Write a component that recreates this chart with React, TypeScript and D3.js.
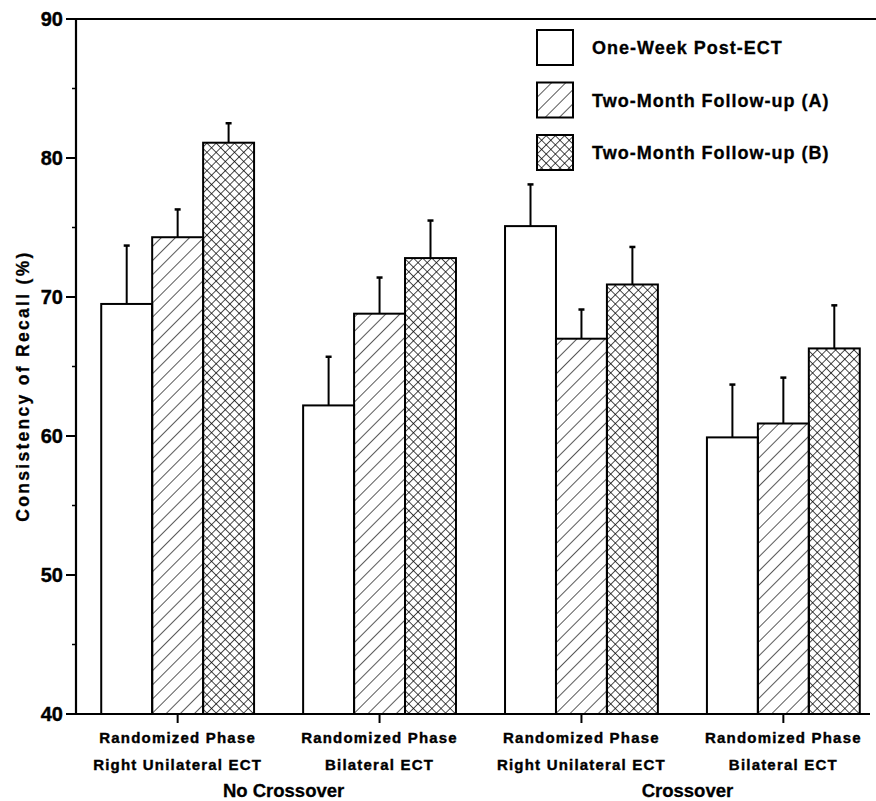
import React from 'react';
import * as d3 from 'd3';

const groups = ['NC-RUL', 'NC-BL', 'C-RUL', 'C-BL'];
const groupLine1 = ['Randomized Phase', 'Randomized Phase', 'Randomized Phase', 'Randomized Phase'];
const groupLine2 = ['Right Unilateral ECT', 'Bilateral ECT', 'Right Unilateral ECT', 'Bilateral ECT'];
const series = ['One-Week Post-ECT', 'Two-Month Follow-up (A)', 'Two-Month Follow-up (B)'];
const fills = ['white', 'url(#hatch)', 'url(#cross)'];
const oneWeek = [69.5, 62.2, 75.1, 59.9];
const twoMonthA = [74.3, 68.8, 67.0, 60.9];
const twoMonthB = [81.1, 72.8, 70.9, 66.3];
const errOneWeek = [4.2, 3.5, 3.0, 3.8];
const errTwoMonthA = [2.0, 2.6, 2.1, 3.3];
const errTwoMonthB = [1.4, 2.7, 2.7, 3.1];
const supergroups = ['No Crossover', 'Crossover'];
const yTicks = [40, 50, 60, 70, 80, 90];
const yMinor = [45, 55, 65, 75, 85];

const values = [oneWeek, twoMonthA, twoMonthB];
const errs = [errOneWeek, errTwoMonthA, errTwoMonthB];

export default function App() {
  const width = 876, height = 801;
  const left = 76, top = 19, bottom = 714;

  const y = d3.scaleLinear().domain([40, 90]).range([bottom, top]);
  const x = d3.scaleBand().domain(groups).range([77, 884]).paddingInner(0.243).paddingOuter(0.12);
  const xs = d3.scaleBand().domain(series).range([0, x.bandwidth()]);

  const font = "'Liberation Sans', Arial, Helvetica, sans-serif";
  const cx = (g: string) => (x(g) as number) + x.bandwidth() / 2;

  return (
    <svg width={width} height={height} style={{ position: 'absolute', left: 0, top: 0, background: 'white' }}
      fontFamily={font} fontWeight="bold">
      <defs>
        <pattern id="hatch" patternUnits="userSpaceOnUse" width="10" height="10" patternTransform="rotate(45)">
          <line x1="0" y1="0" x2="0" y2="10" stroke="black" strokeWidth="1.3" />
        </pattern>
        <pattern id="cross" patternUnits="userSpaceOnUse" width="6.5" height="6.5" patternTransform="rotate(45)">
          <line x1="0" y1="0" x2="0" y2="6.5" stroke="black" strokeWidth="1.4" />
          <line x1="0" y1="0" x2="6.5" y2="0" stroke="black" strokeWidth="1.4" />
        </pattern>
      </defs>

      {/* frame lines */}
      <line x1={left} x2={width} y1={top} y2={top} stroke="black" strokeWidth={2} />
      <line x1={left} x2={left} y1={top} y2={bottom} stroke="black" strokeWidth={2.2} />
      <line x1={left - 8} x2={870} y1={bottom} y2={bottom} stroke="black" strokeWidth={2.2} />

      {/* y ticks */}
      {yTicks.map(t => (
        <g key={t}>
          <line x1={left - 10} x2={left} y1={y(t)} y2={y(t)} stroke="black" strokeWidth={2} />
          <text x={left - 13} y={y(t) + 7} textAnchor="end" fontSize={20} stroke="black" strokeWidth={0.4}>{t}</text>
        </g>
      ))}
      {yMinor.map(t => (
        <line key={t} x1={left - 4} x2={left} y1={y(t)} y2={y(t)} stroke="black" strokeWidth={1.5} />
      ))}
      <text transform="translate(29,386) rotate(-90)" textAnchor="middle" fontSize={17.5}
        letterSpacing={2.3} stroke="black" strokeWidth={0.3}>
        Consistency of Recall (%)
      </text>

      {/* bars */}
      {groups.map((g, gi) => (
        <g key={g} transform={`translate(${x(g)},0)`}>
          {series.map((s, si) => {
            const v = values[si][gi];
            const bx = xs(s) as number;
            const mid = bx + xs.bandwidth() / 2;
            return (
              <g key={s}>
                <line x1={mid} x2={mid} y1={y(v)} y2={y(v + errs[si][gi])} stroke="black" strokeWidth={2} />
                <line x1={mid - 3} x2={mid + 3} y1={y(v + errs[si][gi])} y2={y(v + errs[si][gi])} stroke="black" strokeWidth={2.5} />
                <rect x={bx} y={y(v)} width={xs.bandwidth()} height={bottom - y(v)}
                  fill={fills[si]} stroke="black" strokeWidth={2} />
              </g>
            );
          })}
        </g>
      ))}

      {/* x ticks and labels */}
      {groups.map((g, gi) => (
        <g key={g}>
          <line x1={cx(g)} x2={cx(g)} y1={bottom} y2={bottom + 9} stroke="black" strokeWidth={2} />
          <text x={cx(g)} y={743} textAnchor="middle" fontSize={15} letterSpacing={1.2}
            stroke="black" strokeWidth={0.4}>{groupLine1[gi]}</text>
          <text x={cx(g)} y={770} textAnchor="middle" fontSize={15} letterSpacing={1.2}
            stroke="black" strokeWidth={0.4}>{groupLine2[gi]}</text>
        </g>
      ))}
      {supergroups.map((sg, i) => (
        <text key={sg} x={(cx(groups[i * 2]) + cx(groups[i * 2 + 1])) / 2 + 5} y={797}
          textAnchor="middle" fontSize={18.5} stroke="black" strokeWidth={0.3}>{sg}</text>
      ))}

      {/* legend */}
      {series.map((s, i) => (
        <g key={s} transform={`translate(537,${30 + i * 52.5})`}>
          <rect x={0} y={0} width={36} height={35} fill={fills[i]} stroke="black" strokeWidth={2} />
          <text x={55} y={24} fontSize={18} letterSpacing={1} stroke="black" strokeWidth={0.3}>{s}</text>
        </g>
      ))}
    </svg>
  );
}
